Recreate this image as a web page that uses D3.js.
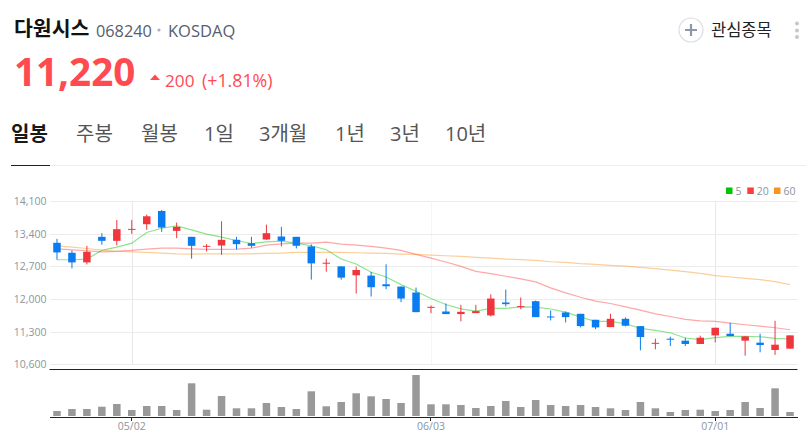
<!DOCTYPE html>
<html lang="ko">
<head>
<meta charset="utf-8">
<script src="https://cdn.jsdelivr.net/npm/d3@7"></script>
<style>
    html, body { margin: 0; padding: 0; background: #fff; overflow: hidden; }
    svg { display: block; font-family: "Open Sans", "Noto Sans CJK KR", sans-serif; }
    .axis path, .axis line { shape-rendering: crispEdges; }
</style>
</head>
<body>
<svg id="chart" width="806" height="439"></svg>
<script>
const dates = ['04/24', '04/25', '04/26', '04/29', '04/30', '05/02', '05/03', '05/07', '05/08', '05/09',
    '05/10', '05/13', '05/14', '05/16', '05/17', '05/20', '05/21', '05/22', '05/23', '05/24',
    '05/27', '05/28', '05/29', '05/30', '05/31', '06/03', '06/04', '06/05', '06/07', '06/10',
    '06/11', '06/12', '06/13', '06/14', '06/17', '06/18', '06/19', '06/20', '06/21', '06/24',
    '06/25', '06/26', '06/27', '06/28', '07/01', '07/02', '07/03', '07/04', '07/05', '07/08'];
const opens = [13208, 12994, 12787, 13336, 13250, 13493, 13607, 13891, 13464, 13336,
    13129, 13150, 13272, 13200, 13279, 13343, 13336, 13130, 12766, 12702,
    12510, 12503, 12318, 12268, 12140, 11826, 11733, 11677, 11698, 11648,
    11926, 11832, 11954, 11626, 11712, 11683, 11555, 11398, 11576, 11419,
    11050, 11149, 11106, 11035, 11220, 11255, 11106, 11063, 10906, 10935];
const closes = [13001, 12787, 13015, 13250, 13500, 13507, 13777, 13535, 13550, 13143,
    13143, 13272, 13179, 13143, 13414, 13250, 13144, 12766, 12780, 12460,
    12624, 12254, 12275, 12011, 11719, 11833, 11677, 11726, 11741, 12011,
    11890, 11848, 11612, 11605, 11612, 11419, 11391, 11576, 11427, 11184,
    11060, 11127, 11035, 11170, 11384, 11206, 11199, 11013, 11020, 11220];
const highs = [13293, 13044, 13143, 13414, 13699, 13699, 13813, 13913, 13642, 13336,
    13179, 13671, 13336, 13336, 13599, 13550, 13336, 13173, 12866, 12702,
    12695, 12581, 12745, 12268, 12246, 11862, 11904, 11876, 11876, 12104,
    12204, 12033, 11968, 11754, 11733, 11683, 11555, 11683, 11605, 11419,
    11149, 11191, 11170, 11213, 11384, 11491, 11206, 11255, 11533, 11220];
const lows = [12844, 12659, 12744, 13165, 13151, 13400, 13485, 13443, 13307, 12866,
    13022, 12951, 13065, 13101, 13272, 13129, 13087, 12417, 12588, 12417,
    12118, 12054, 12211, 11933, 11719, 11698, 11677, 11520, 11698, 11627,
    11840, 11783, 11612, 11541, 11498, 11391, 11355, 11398, 11412, 10899,
    10921, 10992, 10992, 11035, 11070, 11199, 10785, 10857, 10800, 10935];
const ma5 = [12844, 12844, 12858, 13044, 13115, 13200, 13428, 13521, 13571, 13485,
    13393, 13329, 13257, 13193, 13229, 13243, 13200, 13144, 13059, 12859,
    12752, 12574, 12474, 12310, 12168, 12011, 11883, 11790, 11741, 11798,
    11798, 11833, 11826, 11786, 11719, 11612, 11519, 11519, 11469, 11370,
    11327, 11277, 11163, 11127, 11170, 11199, 11199, 11191, 11156, 11142];
const ma20 = [13079, 13058, 13037, 13015, 13022, 13044, 13072, 13094, 13094, 13079,
    13065, 13065, 13072, 13094, 13158, 13186, 13200, 13201, 13222, 13180,
    13158, 13130, 13094, 13044, 12959, 12880, 12795, 12702, 12595, 12546,
    12489, 12432, 12368, 12240, 12132, 12039, 11954, 11904, 11833, 11761,
    11683, 11626, 11562, 11533, 11519, 11484, 11448, 11419, 11384, 11341];
const ma60 = [13143, 13115, 13086, 13051, 13029, 13015, 13001, 12987, 12972, 12965,
    12972, 12972, 12972, 12972, 12980, 12987, 13001, 13002, 13002, 13002,
    12994, 12987, 12980, 12966, 12959, 12945, 12930, 12916, 12895, 12880,
    12859, 12845, 12831, 12801, 12787, 12759, 12744, 12723, 12709, 12680,
    12652, 12623, 12588, 12552, 12502, 12474, 12445, 12417, 12374, 12310];
const volumes = [50, 70, 70, 93, 120, 60, 100, 100, 60, 327,
    63, 200, 77, 77, 130, 90, 70, 247, 97, 140,
    227, 197, 170, 130, 410, 117, 117, 110, 80, 100,
    150, 90, 160, 110, 100, 110, 90, 77, 60, 140,
    77, 40, 60, 63, 50, 60, 140, 80, 277, 40];
const priceTicks = [14100, 13400, 12700, 12000, 11300, 10600];
const dateTicks = ['05/02', '06/03', '07/01'];
const tabs = ['일봉', '주봉', '월봉', '1일', '3개월', '1년', '3년', '10년'];
const tabX = [11, 76, 141, 204, 259, 335, 390, 445];
const legendLabels = ['5', '20', '60'];
const legendX = [726, 747.3, 774];

const RED = '#f0353d';
const BLUE = '#0a7cf0';
const FONT = '"Open Sans", "Noto Sans CJK KR", sans-serif';
const lineColors = ['#00c400', '#ff3b3b', '#f7931e'];

const svg = d3.select('#chart');

const x = d3.scaleBand().domain(dates).range([49.5, 797.5]);
const cx = (d) => x(d) + x.bandwidth() / 2;
const y = d3.scaleLinear().domain([10600, 14100]).range([364.25, 201.25]);
const yVol = d3.scaleLinear().domain([0, 460]).range([416, 370]);

// Header
svg.append('text').attr('x', 14).attr('y', 36).attr('font-size', 20.5).attr('font-weight', 700).attr('fill', '#111').text('다원시스');
svg.append('text').attr('x', 96).attr('y', 37).attr('font-size', 16.3).attr('fill', '#56606e').text('068240');
svg.append('circle').attr('cx', 159).attr('cy', 30).attr('r', 1.6).attr('fill', '#aab0b8');
svg.append('text').attr('x', 168).attr('y', 37).attr('font-size', 16.5).attr('fill', '#56606e').text('KOSDAQ');
svg.append('text').attr('x', 14).attr('y', 86).attr('font-size', 38.6).attr('font-weight', 700).attr('fill', '#ff4b50').text('11,220');
svg.append('path').attr('d', 'M150 80 L155 74.5 L160 80 Z').attr('fill', '#ff4b50');
svg.append('text').attr('x', 165).attr('y', 87).attr('font-size', 17.2).attr('fill', '#ff4b50').text('200');
svg.append('text').attr('x', 202).attr('y', 87).attr('font-size', 17.8).attr('fill', '#ff4b50').text('(+1.81%)');

// Watchlist button
svg.append('circle').attr('cx', 691).attr('cy', 30).attr('r', 12).attr('fill', '#fff').attr('stroke', '#dcdfe6').attr('stroke-width', 1.2);
svg.append('path').attr('d', 'M685 30 H697 M691 24 V36').attr('stroke', '#8d97a8').attr('stroke-width', 2.2);
svg.append('text').attr('x', 711).attr('y', 36).attr('font-size', 16.5).attr('fill', '#222').text('관심종목');
svg.selectAll('.menu-dot').data([23.5, 30.5, 37]).join('circle').attr('class', 'menu-dot')
    .attr('cx', 797).attr('cy', (d) => d).attr('r', 2).attr('fill', '#c4c8ce');

// Tabs
svg.selectAll('.tab').data(tabs).join('text').attr('class', 'tab')
    .attr('x', (d, i) => tabX[i]).attr('y', 141).attr('font-size', 20)
    .attr('font-weight', (d, i) => (i === 0 ? 700 : 400))
    .attr('fill', (d, i) => (i === 0 ? '#191919' : '#555'))
    .text((d) => d);
svg.append('line').attr('x1', 50).attr('x2', 806).attr('y1', 165.5).attr('y2', 165.5).attr('stroke', '#eeeeee');
svg.append('line').attr('x1', 11).attr('x2', 50).attr('y1', 165.5).attr('y2', 165.5).attr('stroke', '#222');

// Legend
legendLabels.forEach((label, i) => {
    svg.append('rect').attr('x', legendX[i]).attr('y', 187.5).attr('width', 6.5).attr('height', 6.5).attr('fill', lineColors[i]);
    svg.append('text').attr('x', legendX[i] + 9.5).attr('y', 194.5).attr('font-size', 10.5).attr('fill', '#8b95a1').text(label);
});

// Grid
svg.selectAll('.vgrid').data(dateTicks).join('line').attr('class', 'vgrid')
    .attr('x1', (d) => Math.round(cx(d)) + 0.5).attr('x2', (d) => Math.round(cx(d)) + 0.5)
    .attr('y1', 201).attr('y2', 365)
    .attr('stroke', (d) => (d === '06/03' ? '#f2f5f9' : '#e8e8e8'));

// Price axis
const yAxis = svg.append('g').attr('class', 'axis').attr('transform', 'translate(49.5,0)')
    .call(d3.axisLeft(y).tickValues(priceTicks).tickFormat(d3.format(',')).tickSize(-748).tickPadding(3));
yAxis.select('.domain').remove();
yAxis.selectAll('line').attr('stroke', '#ececec');
yAxis.selectAll('text').attr('font-size', 10.5).attr('font-family', FONT).attr('fill', '#8b95a1');

// Moving averages
[ma5, ma20, ma60].forEach((values, i) => {
    const line = d3.line().x((d, j) => cx(dates[j])).y((d) => y(d));
    svg.append('path').datum(values).attr('d', line).attr('fill', 'none')
        .attr('stroke', lineColors[i]).attr('stroke-width', 1.2).attr('stroke-opacity', 0.45);
});

// Candles
const candles = svg.append('g').selectAll('g').data(dates).join('g');
const candleColor = (d, i) => (closes[i] >= opens[i] ? RED : BLUE);
candles.append('line')
    .attr('x1', (d) => cx(d)).attr('x2', (d) => cx(d))
    .attr('y1', (d, i) => y(highs[i])).attr('y2', (d, i) => y(lows[i]))
    .attr('stroke', candleColor).attr('stroke-width', 1);
candles.append('rect')
    .attr('x', (d) => cx(d) - 3.75).attr('width', 7.5)
    .attr('y', (d, i) => y(Math.max(opens[i], closes[i])))
    .attr('height', (d, i) => Math.max(1, Math.abs(y(opens[i]) - y(closes[i]))))
    .attr('fill', candleColor);

// Volume pane
svg.append('line').attr('x1', 49.5).attr('x2', 797.5).attr('y1', 369.5).attr('y2', 369.5).attr('stroke', '#222').attr('stroke-width', 1);
svg.selectAll('.vol').data(volumes).join('rect').attr('class', 'vol')
    .attr('x', (d, i) => cx(dates[i]) - 3.75).attr('width', 7.5)
    .attr('y', (d) => yVol(d)).attr('height', (d) => yVol(0) - yVol(d))
    .attr('fill', '#999999');

const xAxis = svg.append('g').attr('class', 'axis').attr('transform', 'translate(0,416.5)')
    .call(d3.axisBottom(x).tickValues(dateTicks).tickSize(4).tickPadding(2));
xAxis.select('.domain').attr('stroke', '#222').attr('d', 'M49.5,0.5H797.5');
xAxis.selectAll('line').attr('stroke', '#222');
xAxis.selectAll('text').attr('font-size', 10.5).attr('font-family', FONT).attr('fill', '#8b95a1');
</script>
</body>
</html>
